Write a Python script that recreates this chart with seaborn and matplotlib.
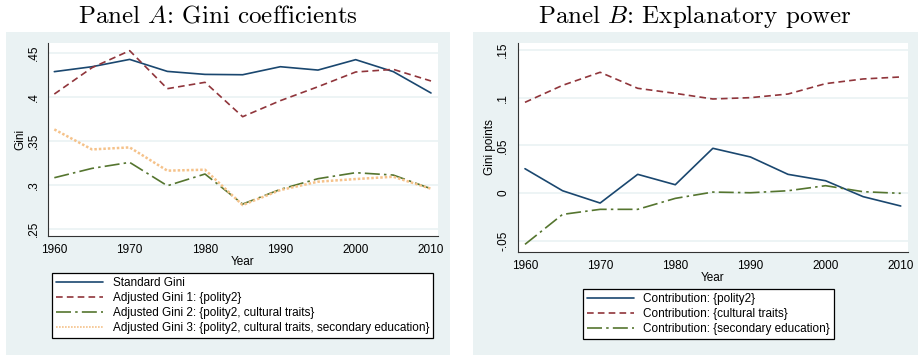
import pandas as pd
import numpy as np
import matplotlib
matplotlib.use("Agg")
import matplotlib.pyplot as plt
import seaborn as sns
from matplotlib.patches import Rectangle

# Data
years = [1960, 1965, 1970, 1975, 1980, 1985, 1990, 1995, 2000, 2005, 2010]

standard_gini = [.4285, .4341, .4424, .4288, .4254, .4250, .4341, .4303, .4421, .4285, .4043]
adj_gini_1 = [.4031, .4330, .4523, .4092, .4164, .3774, .3956, .4114, .4281, .4311, .4179]
adj_gini_2 = [.3082, .3188, .3256, .2991, .3124, .2783, .2950, .3071, .3139, .3112, .2957]
adj_gini_3 = [.3630, .3403, .3426, .3162, .3173, .2772, .2942, .3037, .3067, .3093, .2957]

contrib_polity = [.0255, .0024, -.0105, .0196, .0087, .0469, .0378, .0196, .0129, -.0038, -.0136]
contrib_culture = [.0951, .1129, .1266, .1098, .1045, .0986, .1000, .1038, .1147, .1196, .1217]
contrib_educ = [-.0538, -.0224, -.0171, -.0171, -.0056, .0010, .0003, .0024, .0077, .0014, -.0003]

labels_a = ["Standard Gini",
            "Adjusted Gini 1: {polity2}",
            "Adjusted Gini 2: {polity2, cultural traits}",
            "Adjusted Gini 3: {polity2, cultural traits, secondary education}"]
labels_b = ["Contribution: {polity2}",
            "Contribution: {cultural traits}",
            "Contribution: {secondary education}"]

x_ticks = [1960, 1970, 1980, 1990, 2000, 2010]
y_ticks_a = [.25, .30, .35, .40, .45]
y_ticklabels_a = [".25", ".3", ".35", ".4", ".45"]
y_ticks_b = [-.05, 0, .05, .10, .15]
y_ticklabels_b = ["-.05", "0", ".05", ".1", ".15"]

# Stata s2color-like styling
navy = "#1a476f"
maroon = "#90353b"
green = "#55752f"
peach = "#f5c28a"
bg = "#eaf2f3"

sns.set_style("white")
plt.rcParams["font.family"] = ["Liberation Sans", "DejaVu Sans"]
plt.rcParams["mathtext.fontset"] = "cm"
plt.rcParams["axes.unicode_minus"] = False
plt.rcParams["text.color"] = "black"
plt.rcParams["axes.labelcolor"] = "black"
plt.rcParams["xtick.color"] = "black"
plt.rcParams["ytick.color"] = "black"

df_a = pd.DataFrame({"Year": years * 4,
                     "value": standard_gini + adj_gini_1 + adj_gini_2 + adj_gini_3,
                     "series": [l for l in labels_a for _ in years]})
df_b = pd.DataFrame({"Year": years * 3,
                     "value": contrib_polity + contrib_culture + contrib_educ,
                     "series": [l for l in labels_b for _ in years]})

pal_a = dict(zip(labels_a, [navy, maroon, green, peach]))
dash_a = dict(zip(labels_a, ["", (4, 2.5), (9, 2.5, 1.5, 2.5), (1, 0.8)]))
pal_b = dict(zip(labels_b, [navy, maroon, green]))
dash_b = dict(zip(labels_b, ["", (4, 2.5), (9, 2.5, 1.5, 2.5)]))

W, H = 918, 359
fig = plt.figure(figsize=(W / 100, H / 100), dpi=100)
fig.patch.set_facecolor("white")

def px(x0, y0, x1, y1):
    return [x0 / W, 1 - y1 / H, (x1 - x0) / W, (y1 - y0) / H]

# grey panel backgrounds
for x0, x1 in [(6, 450), (473, 918)]:
    fig.patches.append(Rectangle((x0 / W, 1 - 355 / H), (x1 - x0) / W, (355 - 32) / H,
                                 transform=fig.transFigure, facecolor=bg,
                                 edgecolor="none", zorder=-5))

fig.text(218 / W, 1 - 16 / H, r"Panel $A$: Gini coefficients", family="cmr10",
         fontsize=18, ha="center", va="center", color="black")
fig.text(695 / W, 1 - 16 / H, r"Panel $B$: Explanatory power", family="cmr10",
         fontsize=18, ha="center", va="center", color="black")

ax1 = fig.add_axes(px(48, 43, 438, 236))
ax2 = fig.add_axes(px(517.7, 43, 907.7, 251.5))

sns.lineplot(data=df_a, x="Year", y="value", hue="series", style="series",
             palette=pal_a, dashes=dash_a, linewidth=1.2, ax=ax1)
sns.lineplot(data=df_b, x="Year", y="value", hue="series", style="series",
             palette=pal_b, dashes=dash_b, linewidth=1.2, ax=ax2)
ax1.lines[3].set_linewidth(1.8)

setups = [(ax1, (1959.16, 2010.93), (.2421, .4610), y_ticks_a, y_ticklabels_a, "Gini"),
          (ax2, (1959.03, 2010.93), (-.0613, .1573), y_ticks_b, y_ticklabels_b, "Gini points")]
for ax, xl, yl, yt, ytl, ylab in setups:
    ax.set_facecolor("white")
    ax.set_xlim(*xl)
    ax.set_ylim(*yl)
    ax.set_xticks(x_ticks)
    ax.set_xticklabels([str(t) for t in x_ticks])
    ax.set_yticks(yt)
    ax.set_yticklabels(ytl, rotation=90, va="center")
    ax.tick_params(axis="both", direction="out", length=4, width=0.8, color="#333333",
                   labelsize=8.5, pad=2)
    ax.grid(axis="y", color=bg, linewidth=1.2)
    ax.set_axisbelow(True)
    for s in ["top", "right"]:
        ax.spines[s].set_visible(False)
    for s in ["left", "bottom"]:
        ax.spines[s].set_color("#333333")
        ax.spines[s].set_linewidth(0.8)
    ax.set_xlabel("Year", fontsize=8.5, labelpad=0)
    ax.set_ylabel(ylab, fontsize=8.5, labelpad=1)

for ax, cx, top in [(ax1, 242.5, 272.7), (ax2, 708.4, 288.7)]:
    h, l = ax.get_legend_handles_labels()
    leg = ax.legend(h, l, loc="upper center", bbox_to_anchor=(cx / W, 1 - top / H),
                    bbox_transform=fig.transFigure, fontsize=8.5, frameon=True,
                    fancybox=False, edgecolor="black", facecolor="white",
                    framealpha=1, handlelength=4, handletextpad=0.8,
                    labelspacing=0.25, borderpad=0.35, borderaxespad=0)
    leg.get_frame().set_linewidth(0.9)

fig.savefig("out.png", dpi=100)
